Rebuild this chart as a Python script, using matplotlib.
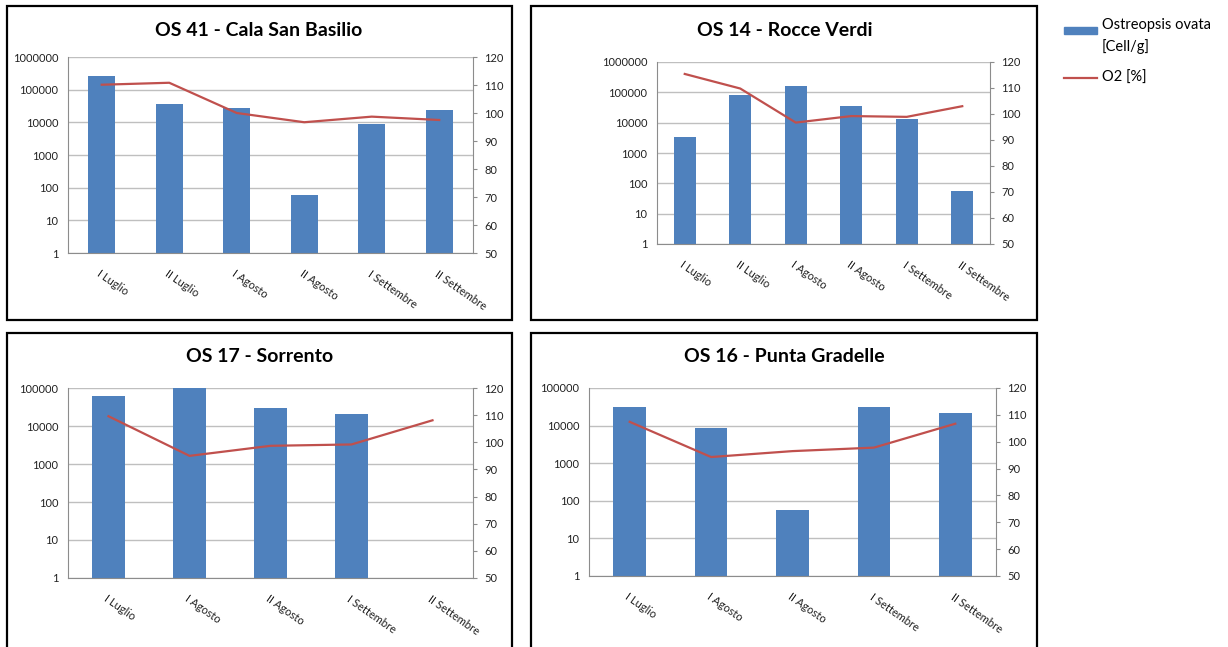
import matplotlib
matplotlib.use("Agg")
import matplotlib.pyplot as plt
from matplotlib.patches import Rectangle
from matplotlib.lines import Line2D

plt.rcParams['font.family'] = ['Lato', 'DejaVu Sans']

# Data
titles = ["OS 41 - Cala San Basilio", "OS 14 - Rocce Verdi",
          "OS 17 - Sorrento", "OS 16 - Punta Gradelle"]

cats_6 = ["I Luglio", "II Luglio", "I Agosto", "II Agosto", "I Settembre", "II Settembre"]
cats_5 = ["I Luglio", "I Agosto", "II Agosto", "I Settembre", "II Settembre"]

ostreopsis_os41 = [270000, 37000, 27000, 60, 9000, 24000]
o2_os41 = [110.1, 110.8, 100.0, 96.7, 98.7, 97.5]

ostreopsis_os14 = [3300, 83000, 167000, 36000, 12800, 58]
o2_os14 = [115.4, 109.8, 96.7, 99.2, 98.9, 103.0]

ostreopsis_os17 = [62000, 100000, 30000, 21000, float('nan')]
o2_os17 = [109.6, 95.0, 98.7, 99.2, 108.1]

ostreopsis_os16 = [31000, 8900, 58, 32000, 21000]
o2_os16 = [107.4, 94.3, 96.5, 97.8, 106.7]

legend_labels = ["Ostreopsis ovata\n[Cell/g]", "O2 [%]"]

W, H = 1228, 647
BLUE = "#4F81BD"
RED = "#C0504D"
GRID = "#BFBFBF"
SPINE = "#8C8C8C"

fig = plt.figure(figsize=(W / 100, H / 100), dpi=100)

# plot area (left, right, top, bottom) in pixels, frame box, title centre, log top
panels = [
    dict(cats=cats_6, bars=ostreopsis_os41, o2=o2_os41, area=(68, 473, 57, 253),
         box=(7, 6, 512, 320), tpos=(259, 30), ytop=6),
    dict(cats=cats_6, bars=ostreopsis_os14, o2=o2_os14, area=(657, 990, 62, 244),
         box=(531, 6, 1037, 320), tpos=(785, 30), ytop=6),
    dict(cats=cats_5, bars=ostreopsis_os17, o2=o2_os17, area=(68, 473, 388, 578),
         box=(7, 333, 512, 660), tpos=(260, 357), ytop=5),
    dict(cats=cats_5, bars=ostreopsis_os16, o2=o2_os16, area=(589, 996, 388, 576),
         box=(531, 333, 1037, 660), tpos=(784, 357), ytop=5),
]

for p, title in zip(panels, titles):
    l, r, t, b = p["area"]
    ax = fig.add_axes([l / W, 1 - b / H, (r - l) / W, (b - t) / H])
    n = len(p["cats"])
    x = list(range(n))
    ax.bar(x, p["bars"], width=0.4, color=BLUE, zorder=2)
    ax.set_yscale("log")
    ax.set_ylim(1, 10 ** p["ytop"])
    ax.set_xlim(-0.5, n - 0.5)
    yt = [10 ** k for k in range(p["ytop"] + 1)]
    ax.set_yticks(yt)
    ax.set_yticklabels([str(v) for v in yt])
    ax.yaxis.set_minor_locator(matplotlib.ticker.NullLocator())
    ax.tick_params(axis="y", length=0, pad=7, labelsize=8, colors="#222222")
    ax.set_xticks(x)
    ax.set_xticklabels(p["cats"], rotation=-35, ha="left", va="top",
                       rotation_mode="anchor", fontsize=8)
    ax.tick_params(axis="x", length=0, pad=11, colors="#222222")
    ax.grid(axis="y", color=GRID, lw=1)
    ax.set_axisbelow(True)
    for s in ["top", "right"]:
        ax.spines[s].set_visible(False)
    for s in ["left", "bottom"]:
        ax.spines[s].set_color(SPINE)

    ax2 = ax.twinx()
    ax2.plot(x, p["o2"], color=RED, lw=1.6, zorder=3)
    ax2.set_ylim(50, 120)
    ax2.set_yticks(range(50, 121, 10))
    ax2.tick_params(axis="y", length=3, pad=5, labelsize=8, color=SPINE,
                    labelcolor="#222222")
    for s in ["top", "left", "bottom"]:
        ax2.spines[s].set_visible(False)
    ax2.spines["right"].set_color(SPINE)

    fig.text(p["tpos"][0] / W, 1 - p["tpos"][1] / H, title, ha="center",
             va="center", fontsize=14, fontweight="bold")

    bx0, by0, bx1, by1 = p["box"]
    fig.patches.append(Rectangle((bx0 / W, 1 - by1 / H), (bx1 - bx0) / W,
                                 (by1 - by0) / H, transform=fig.transFigure,
                                 fill=False, edgecolor="black", lw=1.6))

# legend, drawn by hand so the blue key sits on the first text line
fig.patches.append(Rectangle((1064 / W, 1 - 34 / H), 33 / W, 7 / H,
                             transform=fig.transFigure, color=BLUE))
fig.lines.append(Line2D([1064 / W, 1097 / W], [1 - 78 / H, 1 - 78 / H],
                        transform=fig.transFigure, color=RED, lw=1.6))
fig.text(1102 / W, 1 - 18 / H, legend_labels[0], ha="left", va="top",
         fontsize=10.5, linespacing=1.55)
fig.text(1102 / W, 1 - 78 / H, legend_labels[1], ha="left", va="center",
         fontsize=10.5)

fig.savefig("out.png", dpi=100)
